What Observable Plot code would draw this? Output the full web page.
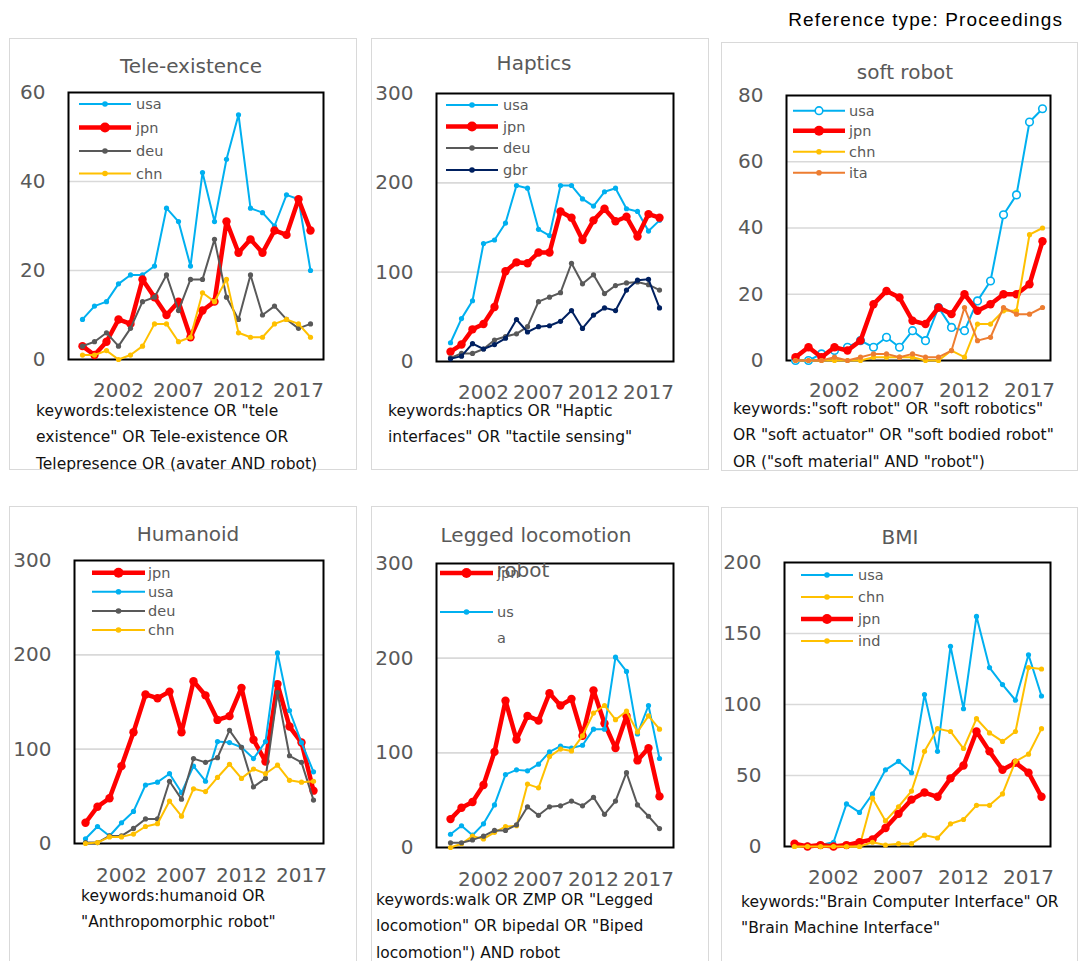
<!DOCTYPE html>
<html>
<head>
<meta charset="utf-8">
<script src="https://cdn.jsdelivr.net/npm/d3@7"></script>
<script src="https://cdn.jsdelivr.net/npm/@observablehq/plot@0.6"></script>
<style>
  body { margin: 0; background: #fff; overflow: hidden; }
  #root { position: relative; width: 1079px; height: 961px; overflow: hidden; font-family: "DejaVu Sans", sans-serif; background: #fff; }
  .box { position: absolute; border: 1.5px solid #D9D9D9; box-sizing: border-box; }
  .ttl { position: absolute; width: 300px; text-align: center; font-size: 20px; line-height: 24px; color: #595959; white-space: nowrap; }
  .kw { position: absolute; font-size: 15.5px; line-height: 18px; color: #111; white-space: nowrap; }
  #head { position: absolute; right: 16px; top: 9px; font-family: "Liberation Sans", Arial, sans-serif; font-size: 19px; letter-spacing: 1.1px; color: #000; }
</style>
</head>
<body>
<div id="root"><div id="head">Reference type: Proceedings</div></div>
<script>
// ---------- data ----------
const years = [1999,2000,2001,2002,2003,2004,2005,2006,2007,2008,2009,2010,2011,2012,2013,2014,2015,2016,2017,2018];
const xTickYears = [2002, 2007, 2012, 2017];

// Tele-existence
const teleUsa = [9,12,13,17,19,19,21,34,31,21,42,31,45,55,34,33,30,37,36,20];
const teleJpn = [3,1,4,9,8,18,14,10,13,5,11,13,31,24,27,24,29,28,36,29];
const teleDeu = [3,4,6,3,7,13,14,19,11,18,18,27,14,9,19,10,12,9,7,8];
const teleChn = [1,1,2,0,1,3,8,8,4,5,15,13,18,6,5,5,8,9,8,5];

// Haptics
const hapUsa = [21,48,68,132,136,155,197,194,148,141,197,197,182,174,190,194,171,168,146,158];
const hapJpn = [11,19,36,42,61,101,111,110,122,122,168,161,136,158,171,157,162,140,165,161];
const hapDeu = [4,9,9,14,24,28,31,39,67,72,77,110,87,97,76,85,88,89,86,80];
const hapGbr = [3,6,20,14,19,26,47,33,39,40,45,57,37,52,60,57,80,91,92,60];

// soft robot
const softUsa = [0,0,2,3,4,6,4,7,4,9,6,16,10,9,18,24,44,50,72,76];
const softJpn = [1,4,1,4,3,6,17,21,19,12,11,16,14,20,15,17,20,20,23,36];
const softChn = [0,0,0,0,0,0,1,1,1,1,0,0,3,1,11,11,15,15,38,40];
const softIta = [0,0,0,1,0,1,2,2,1,2,1,1,3,16,6,7,16,14,14,16];

// Humanoid
const humJpn = [22,39,48,82,118,158,154,161,118,172,157,131,135,165,110,87,169,124,107,56];
const humUsa = [5,18,8,22,34,62,65,74,54,82,66,108,107,102,90,108,202,141,107,76];
const humDeu = [1,1,8,8,16,26,26,66,47,90,86,91,120,102,60,69,160,93,86,46];
const humChn = [0,1,7,7,10,18,21,45,29,58,55,70,84,69,79,74,83,67,65,66];

// Legged locomotion robot
const legJpn = [30,42,48,66,101,155,114,139,134,163,150,157,118,166,131,105,139,92,105,54];
const legUsa = [14,23,13,25,45,77,82,81,88,101,107,105,108,125,125,201,186,120,150,94];
const legChn = [0,4,12,9,16,22,23,67,63,96,104,102,118,142,150,135,144,122,139,125];
const legDeu = [5,5,8,12,18,18,24,43,34,43,44,49,44,53,35,49,79,45,33,20];

// BMI
const bmiUsa = [1,1,1,3,30,24,37,54,60,52,107,67,141,97,162,126,114,103,135,106];
const bmiChn = [0,0,0,0,0,0,34,18,28,39,67,83,81,69,90,80,74,81,126,125];
const bmiJpn = [2,0,1,0,1,3,5,13,23,33,38,35,48,57,81,67,54,59,52,35];
const bmiInd = [0,0,0,0,0,0,3,1,2,2,8,6,16,19,29,29,37,60,65,83];

const colors = {usa: "#00B0F0", jpn: "#FF0000", deu: "#595959", chn: "#FFC000", gbr: "#002060", ita: "#ED7D31", ind: "#FFC000"};

// ---------- layout ----------
const panels = [
  {title: "Tele-existence", box: [9,38,357,470], frame: [68,92,323,359], tpos: [191,66], ymax: 60, yticks: [0,20,40,60],
   series: [["usa", teleUsa], ["jpn", teleJpn], ["deu", teleDeu], ["chn", teleChn]],
   leg: {x0: 79, x1: 131, tx: 136, ys: [104,127.5,151,173.5]},
   kw: {x: 36, y: 411, lines: ["keywords:telexistence OR \"tele", "existence\" OR Tele-existence OR", "Telepresence OR (avater AND robot)"]}, xlab: 30},
  {title: "Haptics", box: [371,38,709,470], frame: [436,93,673,361], tpos: [534,63], ymax: 300, yticks: [0,100,200,300],
   series: [["usa", hapUsa], ["jpn", hapJpn], ["deu", hapDeu], ["gbr", hapGbr]],
   leg: {x0: 446, x1: 498, tx: 503, ys: [105,126.5,148,170]},
   kw: {x: 388, y: 411, lines: ["keywords:haptics OR \"Haptic", "interfaces\" OR \"tactile sensing\""]}, xlab: 30},
  {title: "soft robot", box: [721,42,1078,471], frame: [786,95,1050,360], tpos: [905,72], ymax: 80, yticks: [0,20,40,60,80],
   series: [["usa", softUsa, true], ["jpn", softJpn], ["chn", softChn], ["ita", softIta]],
   leg: {x0: 793, x1: 845, tx: 849, ys: [110.7,130.7,151.7,172.7]},
   kw: {x: 733, y: 409, lines: ["keywords:\"soft robot\" OR \"soft robotics\"", "OR \"soft actuator\" OR \"soft bodied robot\"", "OR (\"soft material\" AND \"robot\")"]}, xlab: 29},
  {title: "Humanoid", box: [9,506,357,975], frame: [74,560,323,843], tpos: [188,534], ymax: 300, yticks: [0,100,200,300],
   series: [["jpn", humJpn], ["usa", humUsa], ["deu", humDeu], ["chn", humChn]],
   leg: {x0: 92, x1: 145, tx: 148, ys: [572.7,591.7,611,630]},
   kw: {x: 81, y: 896, lines: ["keywords:humanoid OR", "\"Anthropomorphic robot\""]}, xlab: 31},
  {title: "Legged locomotion", title2: "robot", t2pos: [523,570], box: [371,506,709,975], frame: [436,563,673,847], tpos: [536,535], ymax: 300, yticks: [0,100,200,300],
   series: [["jpn", legJpn], ["usa", legUsa], ["chn", legChn], ["deu", legDeu]],
   leg: {x0: 440, x1: 493, tx: 497, custom: [{key: "jpn", label: "jpn", y: 573}, {key: "usa", label: "us", y: 612}, {key: null, label: "a", y: 638}]},
   kw: {x: 376, y: 900, lines: ["keywords:walk OR ZMP OR \"Legged", "locomotion\" OR bipedal OR \"Biped", "locomotion\") AND robot"]}, xlab: 31},
  {title: "BMI", box: [721,507,1078,975], frame: [784,562,1050,846], tpos: [900,537], ymax: 200, yticks: [0,50,100,150,200],
   series: [["usa", bmiUsa], ["chn", bmiChn], ["jpn", bmiJpn], ["ind", bmiInd]],
   leg: {x0: 801, x1: 853, tx: 858, ys: [575,597,619,641]},
   kw: {x: 741, y: 902, lines: ["keywords:\"Brain Computer Interface\" OR", "\"Brain Machine Interface\""]}, xlab: 30}
];

function styleOf(key) {
  return key === "jpn" ? {w: 4.5, r: 4.2} : {w: 2, r: 2.6};
}

const root = document.getElementById("root");

// panel boxes first
for (const p of panels) {
  const b = document.createElement("div");
  b.className = "box";
  b.style.left = p.box[0] + "px";
  b.style.top = p.box[1] + "px";
  b.style.width = (p.box[2] - p.box[0]) + "px";
  b.style.height = (p.box[3] - p.box[1]) + "px";
  root.appendChild(b);
}

for (const p of panels) {
  const marks = [
    Plot.ruleY(p.yticks.filter(v => v > 0 && v < p.ymax), {stroke: "#D9D9D9", strokeWidth: 1.6}),
    Plot.frame({stroke: "#000", strokeWidth: 2, fill: "none"})
  ];
  for (const [key, vals, hollow] of p.series) {
    const data = years.map((yr, i) => ({year: yr, v: vals[i]}));
    const s = styleOf(key);
    marks.push(Plot.line(data, {x: "year", y: "v", stroke: colors[key], strokeWidth: s.w}));
    if (hollow) {
      marks.push(Plot.dot(data, {x: "year", y: "v", r: 3.8, fill: "white", stroke: colors[key], strokeWidth: 1.6}));
    } else {
      marks.push(Plot.dot(data, {x: "year", y: "v", r: s.r, fill: colors[key], stroke: "none"}));
    }
  }
  const W = p.box[2] - p.box[0];
  const mb = 45;
  const H = (p.frame[3] - p.box[1]) + mb;
  const svg = Plot.plot({
    width: W,
    height: H,
    marginLeft: p.frame[0] - p.box[0],
    marginRight: p.box[2] - p.frame[2],
    marginTop: p.frame[1] - p.box[1],
    marginBottom: mb,
    style: {fontFamily: "DejaVu Sans", fontSize: "20px", color: "#595959", background: "transparent", overflow: "visible"},
    x: {type: "point", domain: years, padding: 0.5, ticks: xTickYears, tickSize: 0, tickPadding: p.xlab - 7, tickFormat: d => String(d), label: null},
    y: {domain: [0, p.ymax], ticks: p.yticks, tickSize: 0, tickPadding: 23, tickFormat: d => String(d), label: null},
    marks
  });
  svg.style.position = "absolute";
  svg.style.left = p.box[0] + "px";
  svg.style.top = p.box[1] + "px";
  svg.style.maxWidth = "none";
  root.appendChild(svg);
}

// legends
const overlay = d3.create("svg")
  .attr("width", 1079).attr("height", 961)
  .style("position", "absolute").style("left", "0px").style("top", "0px")
  .style("pointer-events", "none");
for (const p of panels) {
  let entries;
  if (p.leg.custom) {
    entries = p.leg.custom.map(e => ({key: e.key, label: e.label, y: e.y, hollow: false}));
  } else {
    entries = p.series.map(([key, vals, hollow], i) => ({key, label: key, y: p.leg.ys[i], hollow: !!hollow}));
  }
  for (const e of entries) {
    if (e.key) {
      const s = styleOf(e.key);
      overlay.append("line")
        .attr("x1", p.leg.x0).attr("x2", p.leg.x1).attr("y1", e.y).attr("y2", e.y)
        .attr("stroke", colors[e.key]).attr("stroke-width", s.w);
      const c = overlay.append("circle")
        .attr("cx", (p.leg.x0 + p.leg.x1) / 2).attr("cy", e.y)
        .attr("r", e.hollow ? 3.8 : (e.key === "jpn" ? 5 : 2.8));
      if (e.hollow) c.attr("fill", "white").attr("stroke", colors[e.key]).attr("stroke-width", 1.6);
      else c.attr("fill", colors[e.key]);
    }
    overlay.append("text")
      .attr("x", p.leg.tx).attr("y", e.y).attr("dy", "0.36em")
      .attr("font-family", "DejaVu Sans").attr("font-size", 14.5)
      .attr("fill", "#595959").text(e.label);
  }
}
root.appendChild(overlay.node());

// titles and keywords
for (const p of panels) {
  const t = document.createElement("div");
  t.className = "ttl";
  t.textContent = p.title;
  t.style.left = (p.tpos[0] - 150) + "px";
  t.style.top = (p.tpos[1] - 12) + "px";
  root.appendChild(t);
  if (p.title2) {
    const t2 = document.createElement("div");
    t2.className = "ttl";
    t2.textContent = p.title2;
    t2.style.left = (p.t2pos[0] - 150) + "px";
    t2.style.top = (p.t2pos[1] - 12) + "px";
    root.appendChild(t2);
  }
  p.kw.lines.forEach((line, i) => {
    const k = document.createElement("div");
    k.className = "kw";
    k.style.left = p.kw.x + "px";
    k.style.top = (p.kw.y + i * 26.3 - 9) + "px";
    k.textContent = line;
    root.appendChild(k);
  });
}
</script>
</body>
</html>
